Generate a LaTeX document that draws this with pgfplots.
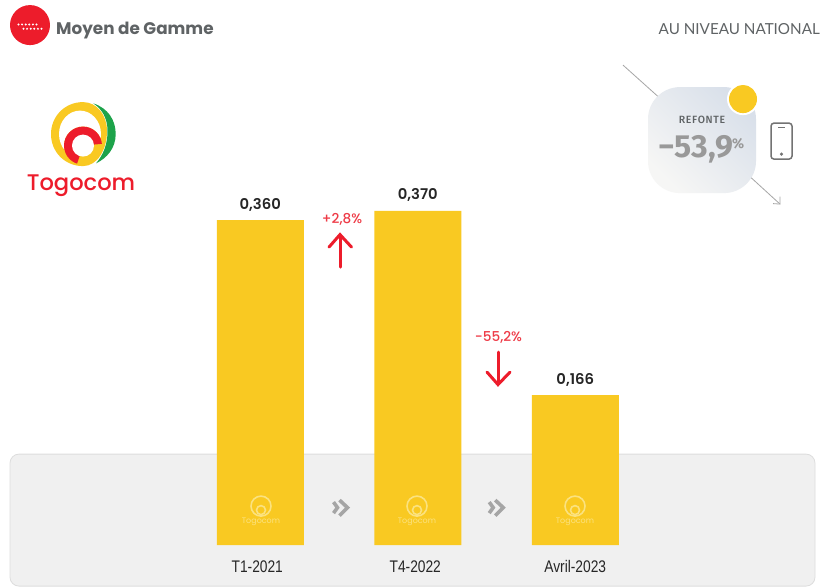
\documentclass[border=0pt]{standalone}
\usepackage{pgfplots}
\pgfplotsset{compat=1.18}
\usepackage{fontspec}
\setmainfont{Liberation Sans}
\newfontfamily\pop{Poppins}
\newfontfamily\popb{Poppins Bold}
\newfontfamily\popsb{Poppins SemiBold}
\newfontfamily\popm{Poppins Medium}
\newfontfamily\lat{Lato}
\newfontfamily\fira{Fira Sans}
\newfontfamily\firam[LetterSpace=6]{Fira Sans Medium}
\newfontfamily\narrow[FakeStretch=0.82]{Liberation Sans}
\definecolor{barY}{HTML}{F9C922}
\definecolor{redT}{HTML}{ED1C2B}
\definecolor{redL}{HTML}{EE3B47}
\definecolor{greenT}{HTML}{1DA34A}
\definecolor{panel}{HTML}{F0F0F0}
\definecolor{panelB}{HTML}{DDDDDD}
\definecolor{head}{HTML}{5F6365}
\definecolor{chev}{HTML}{A5A5A5}
\definecolor{pale}{HTML}{FBE27F}
\definecolor{cardA}{HTML}{D9E0EA}
\definecolor{cardB}{HTML}{F6F6F5}
\pgfplotstableread{
x y
0 0.360
1 0.370
2 0.166
}\bars
\newcommand{\wm}[1]{%
  \draw[pale,line width=1.6pt] (#1,506) circle (10);
  \draw[pale,line width=1.6pt] (#1,510) circle (4.5);
  \node[text=pale,font=\pop\fontsize{8}{8}\selectfont,inner sep=0pt] at (#1,522) {Togocom};
}
\newcommand{\chevr}[1]{%
  \draw[chev,line width=3.6pt] (#1,502) -- (#1+4,507.5) -- (#1,513);
  \draw[chev,line width=3.6pt] (#1+6,500) -- (#1+14,507.5) -- (#1+6,515.5);
}
\begin{document}
\begin{tikzpicture}
\begin{scope}[x=1pt,y=-1pt]
\path[use as bounding box] (0,0) rectangle (821,587);
\fill[white] (0,0) rectangle (821,587);
\draw[panelB,fill=panel,line width=0.8pt,rounded corners=9pt] (10,454) rectangle (815,586);
\end{scope}
\begin{axis}[
  at={(0pt,-545pt)},anchor=south west,
  scale only axis,width=821pt,height=545pt,
  xmin=-1.6524,xmax=3.5603,ymin=0,ymax=0.60354,
  axis line style={draw=none},major tick length=0pt,
  ytick=\empty,xtick={0,1,2},
  xticklabels={T1-2021\hspace*{6pt},\raisebox{3pt}{T4-2022}\hspace*{5pt},Avril-2023},
  xticklabel style={font=\narrow\fontsize{16.8}{16.8}\selectfont,text=black!85,yshift=-12pt,anchor=north},
  /pgf/number format/assume math mode=true,
  /pgf/number format/use comma,
  /pgf/number format/fixed,/pgf/number format/fixed zerofill,/pgf/number format/precision=3,
  nodes near coords,
  every node near coord/.append style={font=\popsb\fontsize{14.8}{15}\selectfont,text=black!85,yshift=5.5pt},
  clip=false]
\addplot[ybar,bar width=87pt,fill=barY,draw=none] table[x=x,y=y] {\bars};
\end{axis}
\begin{scope}[x=1pt,y=-1pt]
% header
\fill[redT] (30,25) circle (20);
\foreach \i in {0,...,5}{
  \fill[white] (18.5+3.6*\i,24.4) circle (1.1);
  \fill[white] (23.5+3.6*\i,28.7) circle (1.1);
}
\node[anchor=base west,inner sep=0pt,text=head,font=\popb\fontsize{16.8}{18}\selectfont] at (56,34) {Moyen de Gamme};
\node[anchor=east,inner sep=0pt,text=head,font=\lat\fontsize{15.2}{16}\selectfont] at (820,28.5) {AU NIVEAU NATIONAL};
% logo
\fill[greenT] (93.3,103.3) .. controls (108,108) and (115.7,120) .. (115.7,134) .. controls (115.7,148) and (107,158) .. (96,163.3) .. controls (103,155) and (107.5,145) .. (107.5,131) .. controls (107.5,118) and (102,109) .. (93.3,103.3);
\fill[barY] (51,134) .. controls (51,116) and (65,102) .. (83,102) .. controls (97,102) and (107,115) .. (107,131) .. controls (107,150) and (97,166) .. (83,166) .. controls (65,166) and (51,152) .. (51,134);
\fill[white] (80,134) ellipse (21 and 23.5);
\fill[barY] (83,145.5) circle (19);
\begin{scope}
\clip (83,145.5) -- (75,170) -- (50,170) -- (50,110) -- (110,110) -- (110,143) -- cycle;
\fill[redT] (83,145.5) circle (19);
\end{scope}
\fill[white] (83,145.5) circle (11);
\node[text=redT,inner sep=0pt,font=\popm\fontsize{22.6}{25}\selectfont] at (81,186) {Togocom};
% card
\draw[black!35,line width=0.8pt] (623,65) -- (662,100);
\draw[black!35,line width=0.8pt] (745,172) -- (780,204);
\draw[black!35,line width=0.8pt] (773,203.5) -- (780,204) -- (780,196.5);
\path[rounded corners=32pt,left color=cardA,right color=cardB,shading angle=-45] (648,87) rectangle (756,193);
\fill[white] (743,99) circle (16);
\fill[barY] (743,99) circle (14);
\node[text=head,inner sep=0pt,font=\firam\fontsize{10.5}{11}\selectfont] at (702,120) {REFONTE};
\node[anchor=west,text=black!40,inner sep=0pt,font=\fira\bfseries\fontsize{32}{33}\selectfont] at (658,149) {−53,9};
\node[anchor=west,text=black!40,inner sep=0pt,font=\fira\bfseries\fontsize{14}{16}\selectfont] at (732,144) {\%};
% phone
\draw[black!55,line width=1.5pt,rounded corners=3pt] (771,123) rectangle (792,159);
\fill[black!55] (781.5,154) circle (1.7);
\draw[black!55,line width=1pt] (778,127) -- (785,127);
% change markers
\node[text=redL,inner sep=0pt,font=\popm\fontsize{13.6}{14}\selectfont] at (342,219) {+2,8\%};
\node[text=redL,inner sep=0pt,font=\popm\fontsize{13.6}{14}\selectfont] at (498.5,337) {−55,2\%};
\draw[redT,line width=3pt,line cap=round,line join=miter] (340,267) -- (340,235);
\draw[redT,line width=3pt,line cap=round,line join=miter] (329,247) -- (340,234.5) -- (351.5,247);
\draw[redT,line width=3pt,line cap=round,line join=miter] (498,352) -- (498,384);
\draw[redT,line width=3pt,line cap=round,line join=miter] (487,372) -- (498,384.5) -- (510,372);
% chevrons
\chevr{333.5}
\chevr{489.2}
% watermarks
\wm{261}
\wm{417}
\wm{575}
\end{scope}
\end{tikzpicture}
\end{document}
